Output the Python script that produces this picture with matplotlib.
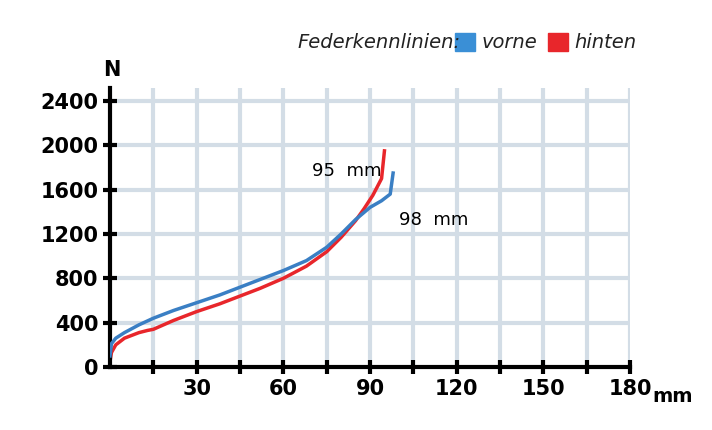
import matplotlib
matplotlib.use("Agg")
import matplotlib.pyplot as plt
from matplotlib.patches import Rectangle

plt.rcParams['font.family'] = ['DejaVu Sans']

vorne_x = [0, 0.5, 2, 5, 10, 15, 22, 30, 38, 45, 52, 60, 68, 75, 80, 85, 90, 94, 97, 98]
vorne_y = [100, 210, 260, 310, 380, 440, 510, 580, 650, 720, 790, 870, 960, 1080, 1200, 1330, 1440, 1500, 1560, 1750]
hinten_x = [0, 0.5, 2, 5, 10, 13, 15, 22, 30, 38, 45, 52, 60, 68, 75, 80, 85, 88, 91, 94, 95]
hinten_y = [50, 130, 200, 260, 310, 330, 340, 420, 500, 570, 640, 710, 800, 910, 1040, 1170, 1320, 1430, 1550, 1700, 1950]
x_ticks = [30, 60, 90, 120, 150, 180]
y_ticks = [0, 400, 800, 1200, 1600, 2000, 2400]

fig = plt.figure(figsize=(7.12, 4.30), dpi=100)
ax = fig.add_axes([110/712, 63/430, 520/712, 279/430])
ax.set_xlim(0, 180)
ax.set_ylim(0, 2400 * 279 / 266)
for v in range(15, 181, 15):
    ax.axvline(v, color='#d3dde6', lw=3, zorder=0)
for v in range(400, 2401, 400):
    ax.axhline(v, color='#d3dde6', lw=3, zorder=0)
ax.plot(vorne_x, vorne_y, color='#3a7fc4', lw=2.5, zorder=3)
ax.plot(hinten_x, hinten_y, color='#e8262b', lw=2.5, zorder=2)
ax.set_xticks(range(15, 181, 15))
ax.set_xticklabels(['' if v not in x_ticks else str(v) for v in range(15, 181, 15)])
ax.set_yticks(y_ticks)
ax.tick_params(direction='inout', length=10, width=3, labelsize=15)
for lbl in ax.get_xticklabels() + ax.get_yticklabels():
    lbl.set_fontweight('bold')
for s in ['top', 'right']:
    ax.spines[s].set_visible(False)
for s in ['left', 'bottom']:
    ax.spines[s].set_linewidth(3)
fig.text(112/712, 1 - 70/430, 'N', fontsize=15, fontweight='bold', ha='center', va='center')
fig.text(652/712, 1 - 396/430, 'mm', fontsize=14, fontweight='bold', ha='left', va='center')
ax.text(70, 1720, '95  mm', fontsize=13)
ax.text(100, 1280, '98  mm', fontsize=13)
fig.text(297/712, 1 - 42/430, 'Federkennlinien:', fontsize=14, style='italic', color='#222', va='center')
fig.patches.append(Rectangle((455/712, 1 - 51/430), 20/712, 18/430, transform=fig.transFigure, color='#3a8fd6'))
fig.text(482/712, 1 - 42/430, 'vorne', fontsize=14, style='italic', color='#222', va='center')
fig.patches.append(Rectangle((548/712, 1 - 51/430), 20/712, 18/430, transform=fig.transFigure, color='#e8262b'))
fig.text(574/712, 1 - 42/430, 'hinten', fontsize=14, style='italic', color='#222', va='center')
fig.savefig('out.png')
